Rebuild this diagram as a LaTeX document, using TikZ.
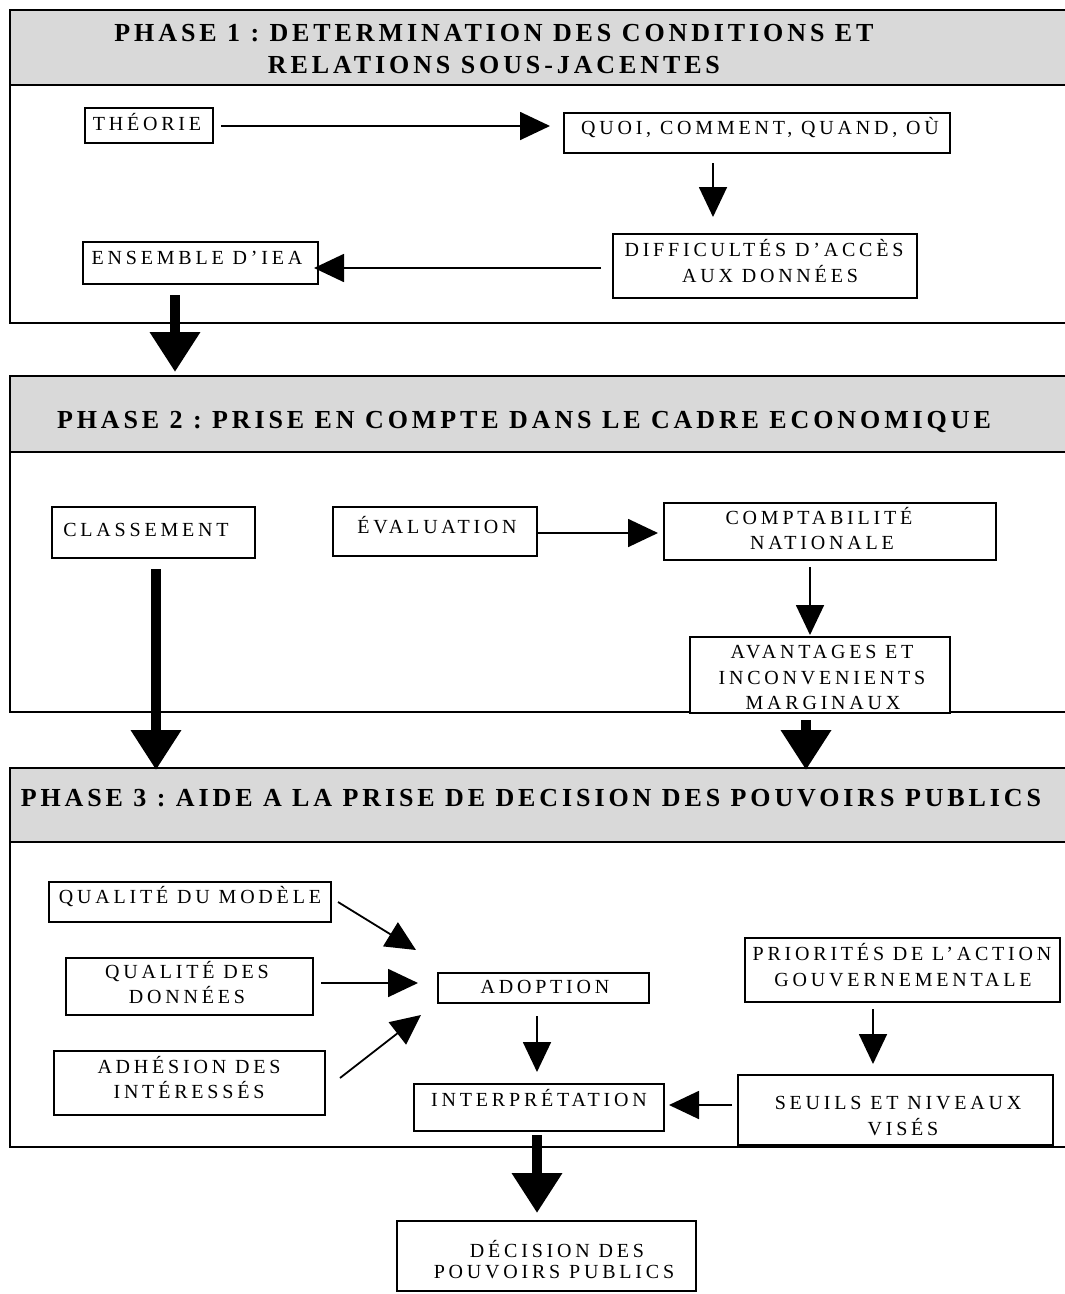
\documentclass[tikz,border=0pt]{standalone}
\usepackage{fontspec}
\setmainfont{Liberation Serif}
\newfontfamily\bxfont[LetterSpace=19]{Liberation Serif}
\newfontfamily\hdfont[LetterSpace=15]{Liberation Serif}
\usetikzlibrary{arrows.meta,calc}
\frenchspacing
\begin{document}
\frenchspacing
\begin{tikzpicture}[x=1pt,y=-1pt,
  frame/.style={draw, line width=2pt, inner sep=0pt, outer sep=0pt, minimum width=1065pt},
  band/.style={frame, fill=gray!30},
  box/.style={draw, line width=1.8pt, fill=white, inner sep=0pt, outer sep=0pt},
  lbl/.style={font=\bxfont\fontsize{20}{24}\selectfont\frenchspacing, inner sep=0pt, outer sep=0pt, text height=13pt, text depth=0pt},
  hd/.style={font=\hdfont\bfseries\fontsize{26}{30}\selectfont\frenchspacing, inner sep=0pt, outer sep=0pt, text height=17pt, text depth=0pt},
  arr/.style={line width=1.8pt, -{Triangle[length=30pt,width=28pt]}},
  bigarr/.style={line width=10pt, -{Triangle[length=40pt,width=48pt]}}]
\useasboundingbox (0,0) rectangle (1065,1294);
\clip (0,0) rectangle (1065,1294);
% phase frames
\node[frame, minimum height=313pt] (ph1) at (542.5,166.5) {};
\node[band, minimum height=75pt] (ph1h) at (542.5,47.5) {};
\node[frame, minimum height=336pt] (ph2) at (542.5,544) {};
\node[band, minimum height=76pt] (ph2h) at (542.5,414) {};
\node[frame, minimum height=379pt] (ph3) at (542.5,957.5) {};
\node[band, minimum height=74pt] (ph3h) at (542.5,805) {};
% headers
\node[hd] (h1a) at (494,33) {PHASE 1 : DETERMINATION DES CONDITIONS ET};
\node[hd] (h1b) at (494,65) {RELATIONS SOUS-JACENTES};
\node[hd] (h2) at (524,420) {PHASE 2 : PRISE EN COMPTE DANS LE CADRE ECONOMIQUE};
\node[hd] (h3) at (531,798) {PHASE 3 : AIDE A LA PRISE DE DECISION DES POUVOIRS PUBLICS};
% boxes
\node[box, minimum width=128pt, minimum height=35pt] (theorie) at (149,125.5) {};
\node[box, minimum width=386pt, minimum height=40pt] (quoi) at (757,133) {};
\node[box, minimum width=304pt, minimum height=64pt] (diff) at (765,266) {};
\node[box, minimum width=235pt, minimum height=42pt] (ens) at (200.5,263) {};
\node[box, minimum width=203pt, minimum height=51pt] (class) at (153.5,532.5) {};
\node[box, minimum width=204pt, minimum height=49pt] (eval) at (435,531.5) {};
\node[box, minimum width=332pt, minimum height=57pt] (compta) at (830,531.5) {};
\node[box, minimum width=260pt, minimum height=76pt] (avant) at (820,675) {};
\node[box, minimum width=282pt, minimum height=40pt] (modele) at (190,902) {};
\node[box, minimum width=247pt, minimum height=57pt] (donn) at (189.5,986.5) {};
\node[box, minimum width=271pt, minimum height=64pt] (adh) at (189.5,1083) {};
\node[box, minimum width=211pt, minimum height=30pt] (adopt) at (543.5,988) {};
\node[box, minimum width=250pt, minimum height=47pt] (interp) at (539,1107.5) {};
\node[box, minimum width=315pt, minimum height=64pt] (prior) at (902.5,970) {};
\node[box, minimum width=315pt, minimum height=70pt] (seuils) at (895.5,1110) {};
\node[box, minimum width=299pt, minimum height=70pt] (decision) at (546.5,1256) {};
% texts
\node[lbl] (tTheorie) at (147,123.5) {THÉORIE};
\node[lbl] (tQuoi) at (760,128) {QUOI, COMMENT, QUAND, OÙ};
\node[lbl] (tDiff1) at (764,250) {DIFFICULTÉS D’ACCÈS};
\node[lbl] (tDiff2) at (770,276) {AUX DONNÉES};
\node[lbl] (tEns) at (197,257.5) {ENSEMBLE D’IEA};
\node[lbl] (tClass) at (146,530) {CLASSEMENT};
\node[lbl] (tEval) at (437,527) {ÉVALUATION};
\node[lbl] (tCompta1) at (819,518) {COMPTABILITÉ};
\node[lbl] (tCompta2) at (822,543) {NATIONALE};
\node[lbl] (tAvant1) at (822,652) {AVANTAGES ET};
\node[lbl] (tAvant2) at (822,678) {INCONVENIENTS};
\node[lbl] (tAvant3) at (823,703) {MARGINAUX};
\node[lbl] (tModele) at (190,897) {QUALITÉ DU MODÈLE};
\node[lbl] (tDonn1) at (187,972) {QUALITÉ DES};
\node[lbl] (tDonn2) at (187,997) {DONNÉES};
\node[lbl] (tAdh1) at (189,1067) {ADHÉSION DES};
\node[lbl] (tAdh2) at (189,1092) {INTÉRESSÉS};
\node[lbl] (tAdopt) at (545,987) {ADOPTION};
\node[lbl] (tInterp) at (539,1100) {INTERPRÉTATION};
\node[lbl] (tPrior1) at (902,954) {PRIORITÉS DE L’ACTION};
\node[lbl] (tPrior2) at (903,980) {GOUVERNEMENTALE};
\node[lbl] (tSeuils1) at (898,1103) {SEUILS ET NIVEAUX};
\node[lbl] (tSeuils2) at (903,1129) {VISÉS};
\node[lbl] (tDec1) at (557,1251) {DÉCISION DES};
\node[lbl] (tDec2) at (554,1272) {POUVOIRS PUBLICS};
% connectors
\draw[arr] ($(theorie.east)+(8,0.5)$) -- ($(quoi.west)+(-14,-7)$);
\draw[arr] ($(quoi.south)+(-44,10)$) -- ($(diff.north)+(-52,-17)$);
\draw[arr] ($(diff.west)+(-12,2)$) -- ($(ens.east)+(-4,5)$);
\draw[bigarr] ($(ens.south)+(-25.5,11)$) -- ($(ph2.north)+(-367.5,-4)$);
\draw[bigarr] ($(class.south)+(2.5,11)$) -- ($(ph3.north)+(-386.5,2)$);
\draw[bigarr] ($(avant.south)+(-14,7)$) -- ($(ph3.north)+(263.5,2)$);
\draw[arr] ($(eval.east)+(0,1.5)$) -- ($(compta.west)+(-6,1.5)$);
\draw[arr] ($(compta.south)+(-20,7)$) -- ($(avant.north)+(-10,-2)$);
\draw[arr] ($(modele.east)+(7,0)$) -- ($(adopt.north west)+(-22,-23)$);
\draw[arr] ($(donn.east)+(8,-3.5)$) -- ($(adopt.west)+(-20,-5)$);
\draw[arr] ($(adh.east)+(15,-5)$) -- ($(adopt.south west)+(-17,12)$);
\draw[arr] ($(adopt.south)+(-6.5,13)$) -- ($(interp.north)+(-2,-12)$);
\draw[arr] ($(prior.south)+(-29.5,7)$) -- ($(seuils.north)+(-22.5,-11)$);
\draw[arr] ($(seuils.west)+(-6,-5)$) -- ($(interp.east)+(5,-2.5)$);
\draw[bigarr] ($(interp.south)+(-2,4)$) -- ($(decision.north)+(-9.5,-8)$);
\end{tikzpicture}
\end{document}
